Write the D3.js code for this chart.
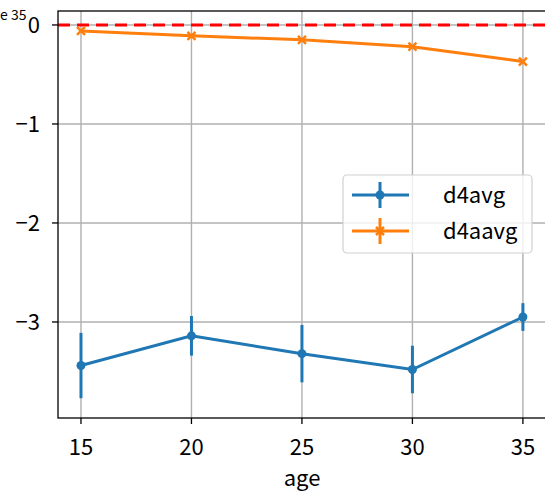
<!DOCTYPE html>
<html>
<head>
<meta charset="utf-8">
<script src="https://cdn.jsdelivr.net/npm/d3@7"></script>
<style>
html,body{margin:0;padding:0;background:#fff;}
svg{display:block;}
text{font-family:"Noto Sans CJK JP","Noto Sans",sans-serif;}
</style>
</head>
<body>
<svg id="chart" width="545" height="493"></svg>
<script>
const ages = [15, 20, 25, 30, 35];
const d4avg = [-3.44, -3.14, -3.32, -3.48, -2.95];
const d4avgErr = [0.33, 0.20, 0.29, 0.24, 0.14];
const d4aavg = [-0.06, -0.11, -0.15, -0.22, -0.37];
const d4aavgErr = [0.01, 0.01, 0.01, 0.01, 0.01];
const xTicks = [15, 20, 25, 30, 35];
const yTicks = [0, -1, -2, -3];
const seriesNames = ["d4avg", "d4aavg"];
const colors = ["#1f77b4", "#ff7f0e"];

const svg = d3.select("#chart");
const L = 58, R = 545, T = 11, B = 418;
const x = d3.scaleLinear().domain([13.96, 36.0]).range([L, R]);
const y = d3.scaleLinear().domain([-3.97, 0.141]).range([B, T]);

// grid
const g = svg.append("g");
g.selectAll(".vg").data(xTicks).enter().append("line")
  .attr("x1", d => x(d)).attr("x2", d => x(d)).attr("y1", T).attr("y2", B)
  .attr("stroke", "#b0b0b0").attr("stroke-width", 1.4);
g.selectAll(".hg").data(yTicks).enter().append("line")
  .attr("x1", L).attr("x2", R).attr("y1", d => y(d)).attr("y2", d => y(d))
  .attr("stroke", "#b0b0b0").attr("stroke-width", 1.4);

// red dashed zero line
svg.append("line").attr("x1", L).attr("x2", R).attr("y1", y(0)).attr("y2", y(0))
  .attr("stroke", "red").attr("stroke-width", 3).attr("stroke-dasharray", "12,7");

const line = d3.line().x(d => x(d[0])).y(d => y(d[1]));

function drawSeries(vals, errs, color, marker) {
  const pts = ages.map((a, i) => [a, vals[i], errs[i]]);
  const sg = svg.append("g");
  sg.selectAll(".eb").data(pts).enter().append("line")
    .attr("x1", d => x(d[0])).attr("x2", d => x(d[0]))
    .attr("y1", d => y(d[1] - d[2])).attr("y2", d => y(d[1] + d[2]))
    .attr("stroke", color).attr("stroke-width", 3);
  sg.append("path").datum(pts).attr("d", line)
    .attr("fill", "none").attr("stroke", color).attr("stroke-width", 3);
  if (marker === "o") {
    sg.selectAll(".m").data(pts).enter().append("circle")
      .attr("cx", d => x(d[0])).attr("cy", d => y(d[1])).attr("r", 4.5).attr("fill", color);
  } else {
    sg.selectAll(".m").data(pts).enter().append("path")
      .attr("d", d => { const cx = x(d[0]), cy = y(d[1]), s = 4;
        return `M${cx-s},${cy-s}L${cx+s},${cy+s}M${cx-s},${cy+s}L${cx+s},${cy-s}`; })
      .attr("stroke", color).attr("stroke-width", 2.5);
  }
}
drawSeries(d4avg, d4avgErr, colors[0], "o");
drawSeries(d4aavg, d4aavgErr, colors[1], "x");

// spines
svg.append("rect").attr("x", L).attr("y", T).attr("width", R - L + 2).attr("height", B - T)
  .attr("fill", "none").attr("stroke", "#000").attr("stroke-width", 1.3);

const FS = 22;
// x axis ticks
const xa = svg.append("g");
xa.selectAll(".t").data(xTicks).enter().append("line")
  .attr("x1", d => x(d)).attr("x2", d => x(d)).attr("y1", B).attr("y2", B + 6)
  .attr("stroke", "#000").attr("stroke-width", 1.3);
xa.selectAll(".tl").data(xTicks).enter().append("text")
  .attr("x", d => x(d)).attr("y", 455).attr("text-anchor", "middle")
  .attr("font-size", FS).text(d => d);
svg.append("text").attr("x", 302).attr("y", 486).attr("text-anchor", "middle")
  .attr("font-size", FS).text("age");

// y axis ticks
const ya = svg.append("g");
ya.selectAll(".t").data(yTicks).enter().append("line")
  .attr("x1", L - 6).attr("x2", L).attr("y1", d => y(d)).attr("y2", d => y(d))
  .attr("stroke", "#000").attr("stroke-width", 1.3);
ya.selectAll(".tl").data(yTicks).enter().append("text")
  .attr("x", 40).attr("y", d => y(d) + 8).attr("text-anchor", "end")
  .attr("font-size", FS).text(d => d === 0 ? "0" : "\u2212" + Math.abs(d));

// offset text (as visible in the reference)
svg.append("text").attr("x", 0).attr("y", 20)
  .attr("font-size", 14).text("e 35");

// legend
const lg = svg.append("g");
lg.append("rect").attr("x", 343).attr("y", 175).attr("width", 189).attr("height", 78)
  .attr("rx", 4).attr("fill", "#fff").attr("fill-opacity", 0.8)
  .attr("stroke", "#d0d0d0").attr("stroke-width", 1.2);
const ly = [195, 231];
seriesNames.forEach((n, i) => {
  const c = colors[i];
  lg.append("line").attr("x1", 352).attr("x2", 409).attr("y1", ly[i]).attr("y2", ly[i])
    .attr("stroke", c).attr("stroke-width", 3);
  lg.append("line").attr("x1", 380).attr("x2", 380).attr("y1", ly[i] - 13).attr("y2", ly[i] + 13)
    .attr("stroke", c).attr("stroke-width", 3);
  if (i === 0) {
    lg.append("circle").attr("cx", 380).attr("cy", ly[i]).attr("r", 4.5).attr("fill", c);
  } else {
    lg.append("path").attr("d", `M376,${ly[i]-4}L384,${ly[i]+4}M376,${ly[i]+4}L384,${ly[i]-4}`)
      .attr("stroke", c).attr("stroke-width", 2.5);
  }
  lg.append("text").attr("x", 443).attr("y", ly[i] + 8).attr("font-size", FS).text(n);
});
</script>
</body>
</html>
